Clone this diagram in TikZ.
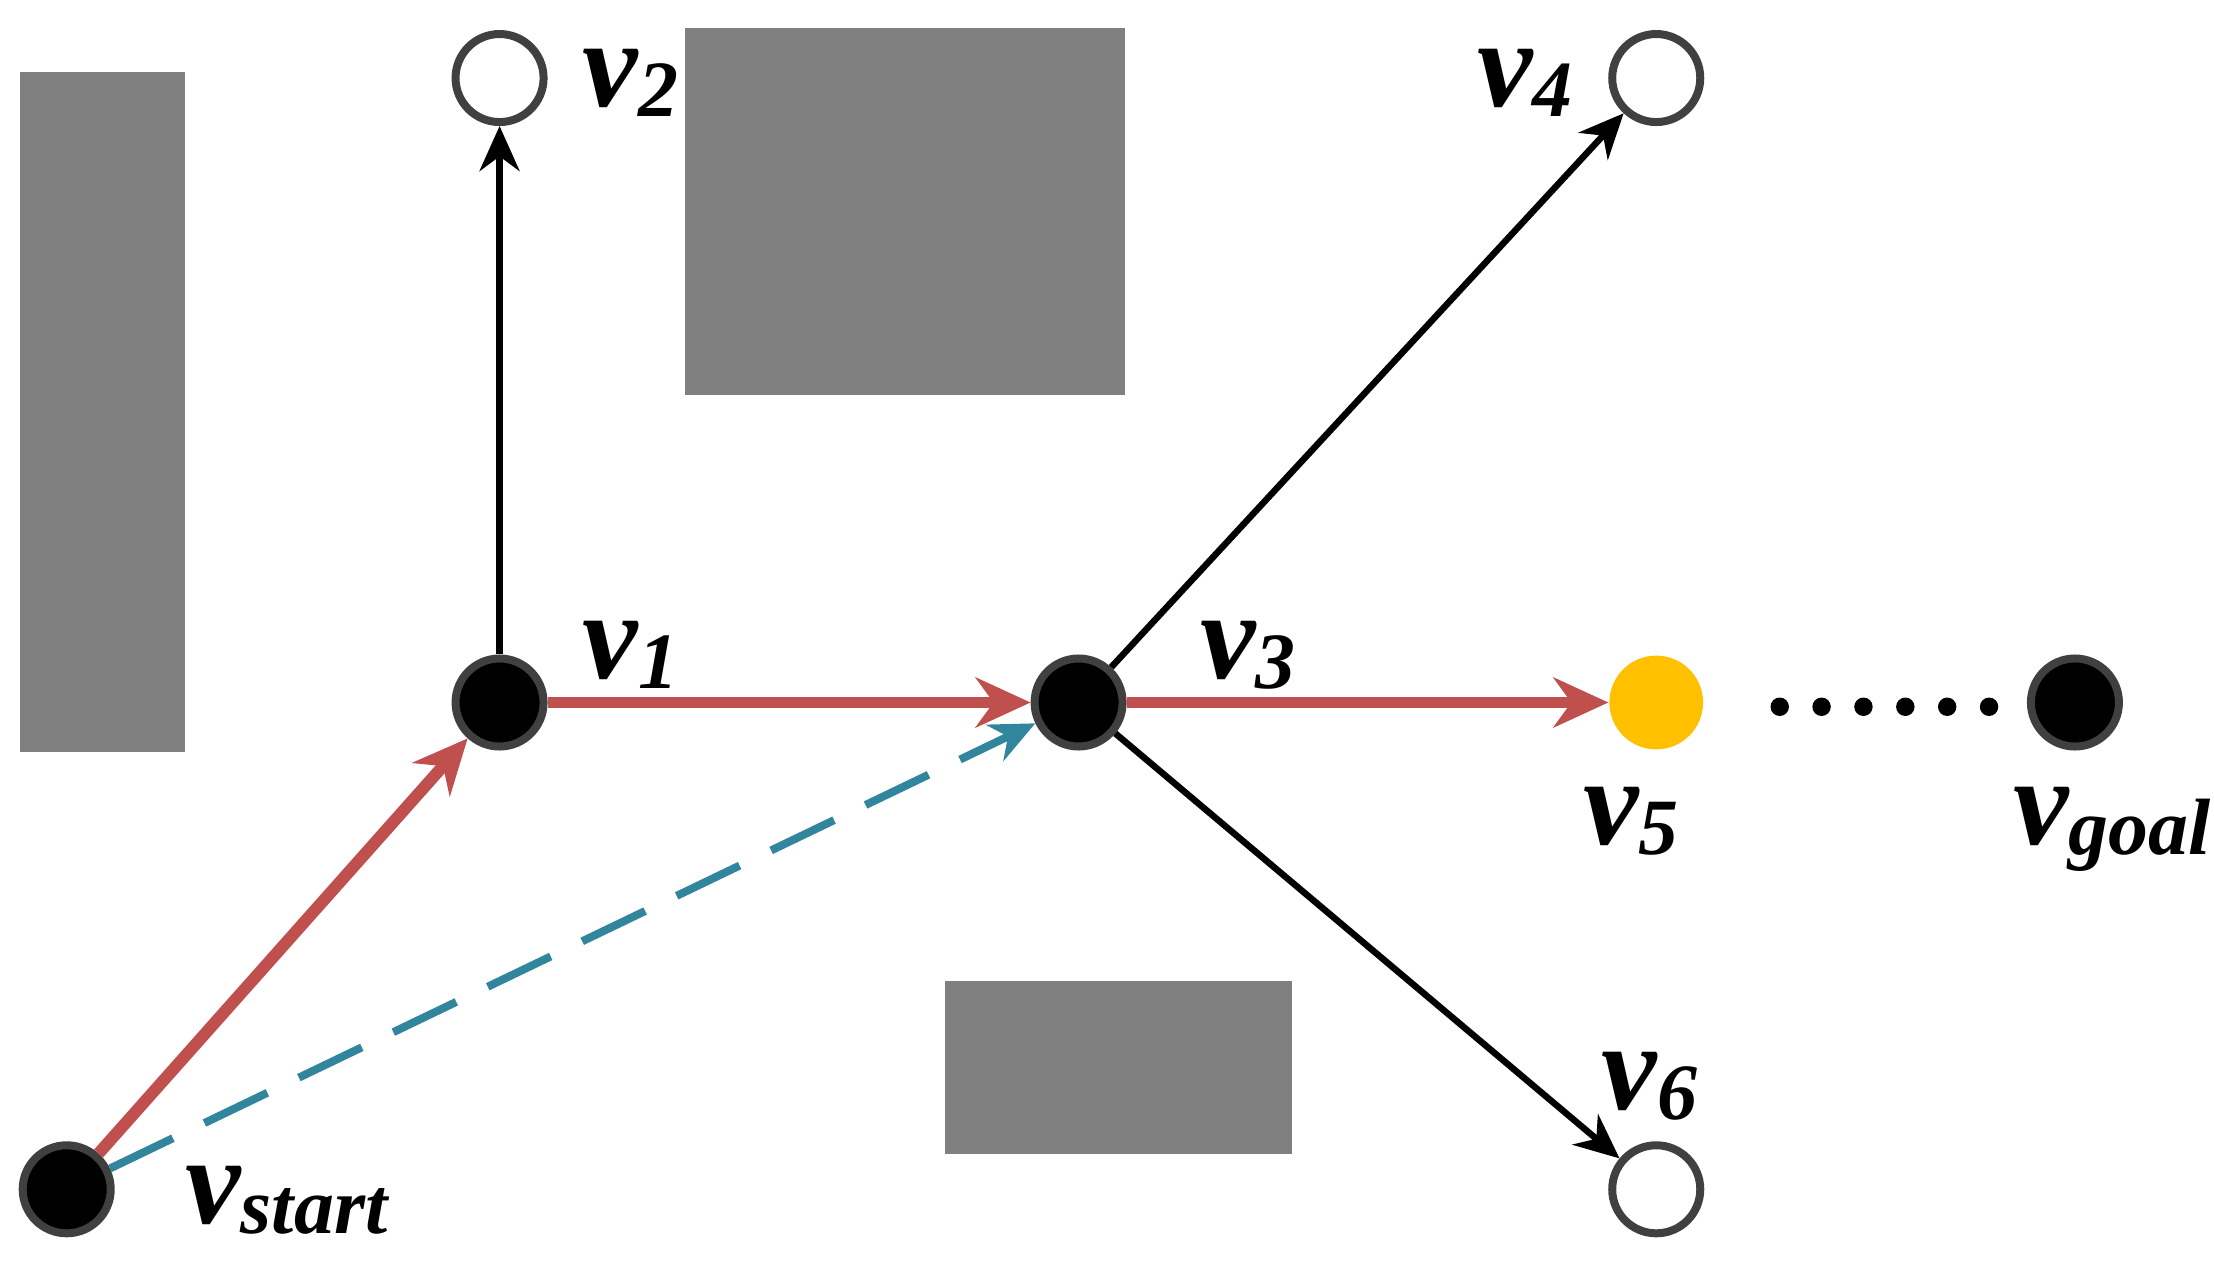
\documentclass[tikz,border=0pt]{standalone}
\usepackage{fontspec}
\setmainfont{Liberation Serif}
\usetikzlibrary{arrows.meta}
\begin{document}
\begin{tikzpicture}[x=0.01cm,y=-0.01cm,
  obs/.style={fill=black!50},
  vtx/.style={circle,draw=black!75,line width=1.6pt,minimum size=0.62cm,inner sep=0pt},
  lbl/.style={font=\fontsize{25}{25}\selectfont\bfseries\itshape,inner sep=0pt,anchor=base west},
  red/.style={draw={rgb,255:red,192;green,80;blue,77},line width=2.4pt,-{Stealth[length=11pt,width=10pt]}},
  blk/.style={draw=black,line width=1.3pt,-{Stealth[length=9pt,width=8pt]}},
  teal/.style={draw={rgb,255:red,49;green,133;blue,156},line width=1.6pt,dash pattern=on 14pt off 7pt,-{Stealth[length=9pt,width=8pt]}}]
\useasboundingbox (0,0) rectangle (1560,889);
\newcommand{\sbs}[1]{\raisebox{-2pt}{\fontsize{16}{16}\selectfont #1}}
\fill[obs] (14,51) rectangle (130,530);
\fill[obs] (483,20) rectangle (793,278);
\fill[obs] (666,691) rectangle (910,813);
\node[vtx,fill=black] (vs) at (47,838) {};
\node[vtx,fill=black] (v1) at (352,495) {};
\node[vtx,fill=white] (v2) at (352,55) {};
\node[vtx,fill=black] (v3) at (760,495) {};
\node[vtx,fill=white] (v4) at (1167,55) {};
\node[circle,fill={rgb,255:red,255;green,192;blue,0},minimum size=0.66cm,inner sep=0pt] (v5) at (1167,495) {};
\node[vtx,fill=black] (vg) at (1462,495) {};
\node[vtx,fill=white] (v6) at (1167,838) {};
\draw[red] (vs) -- (v1);
\draw[red] (v1) -- (v3);
\draw[red] (v3) -- (v5);
\draw[blk] (v1) -- (v2);
\draw[blk] (v3) -- (v4);
\draw[blk] (v3) -- (v6);
\draw[teal] (vs) -- (v3);
\node[lbl] (l2) at (410,75) {v\sbs{2}};
\node[lbl] (l1) at (410,478) {v\sbs{1}};
\node[lbl] (l3) at (845,478) {v\sbs{3}};
\node[lbl] (l4) at (1040,75) {v\sbs{4}};
\node[lbl] (l5) at (1115,595) {v\sbs{5}};
\node[lbl] (l6) at (1128,782) {v\sbs{6}};
\node[lbl] (lg) at (1418,595) {v\sbs{goal}};
\node[lbl] (ls) at (130,862) {v\sbs{start}};
\foreach \i in {0,...,5} \fill (1254+\i*29.5,498) circle (6.5);
\end{tikzpicture}
\end{document}
